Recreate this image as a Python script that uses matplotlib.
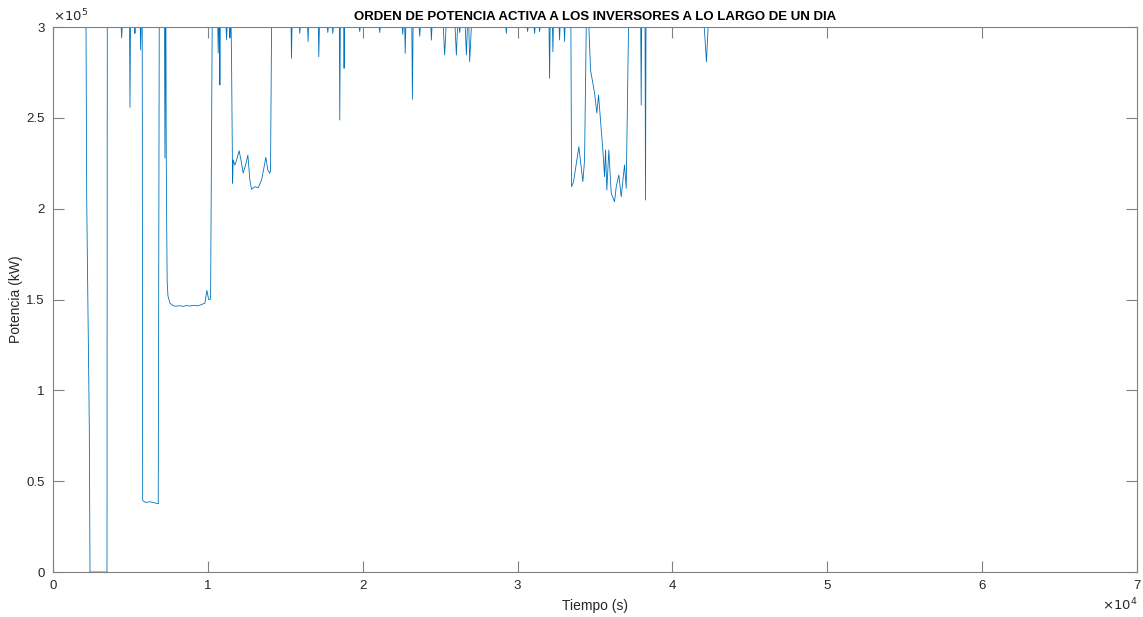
import matplotlib
matplotlib.use("Agg")
import matplotlib.pyplot as plt

plt.rcParams['font.family'] = ['Liberation Sans', 'DejaVu Sans']

# tiempo (s) y orden de potencia
tiempo = [0, 2130, 2174, 2342, 2387, 3484, 3503,
          4400, 4432, 4465, 4940, 4968, 5000, 5270, 5290, 5310, 5630, 5658, 5690,
          5760, 5787, 5826, 6000, 6258, 6500, 6794, 6858,
          7200, 7226, 7260, 7290, 7310, 7340, 7370, 7420, 7550, 7742, 7900, 8194, 8400,
          8600, 8839, 9100, 9300, 9484, 9806, 9935, 10050, 10174, 10277,
          10640, 10665, 10700, 10750, 10774, 10800, 11175, 11206, 11240, 11400, 11419, 11450,
          11500, 11529, 11594, 11632, 11742, 11852, 12019, 12174, 12277, 12432, 12581,
          12710, 12819, 13032, 13245, 13465, 13613, 13742, 13871, 14000, 14045, 14110,
          15370, 15400, 15430, 15905, 15935, 15960, 16440, 16471, 16500,
          17130, 17161, 17200, 17710, 17742, 17780, 18030, 18064, 18100,
          18490, 18516, 18550, 18770, 18794, 18820, 19770, 19806, 19840,
          21060, 21097, 21130, 22550, 22581, 22610, 22710, 22740, 22780,
          23170, 23206, 23250, 23640, 23677, 23720, 24400, 24432, 24470,
          25200, 25290, 25380, 25960, 26045, 26120, 26220, 26258, 26300,
          26620, 26690, 26760, 26850, 26903, 27013,
          29240, 29271, 29300, 30610, 30645, 30680, 31060, 31097, 31130, 31390, 31420, 31450,
          32030, 32065, 32100, 32250, 32277, 32310, 32680, 32710, 32740,
          33000, 33032, 33060, 33440, 33484, 33613, 33955, 34213, 34323, 34432,
          34600, 34710, 34968, 35116, 35226, 35503, 35613, 35677, 35761, 35890,
          36045, 36258, 36368, 36535, 36690, 36903, 37013, 37161,
          37950, 37981, 38010, 38230, 38258, 38290, 42050, 42194, 42300, 61161]

potencia = [300000, 300000, 205000, 80000, 0, 0, 300000,
            300000, 293950, 300000, 300000, 255800, 300000, 300000, 296500, 300000, 300000, 287340, 300000,
            300000, 39630, 39080, 38300, 38700, 38200, 37600, 300000,
            300000, 227890, 300000, 300000, 230000, 190000, 160000, 152000, 148000, 146700, 146300, 146600, 146200,
            146700, 146400, 146800, 146500, 146900, 148000, 155000, 150000, 150200, 300000,
            300000, 285690, 300000, 300000, 268070, 300000, 300000, 293000, 300000, 300000, 293950, 300000,
            300000, 280180, 214000, 226800, 224000, 226800, 231900, 225000, 219600, 224000, 229500,
            215800, 210650, 212100, 211500, 215800, 222200, 228300, 221300, 219500, 221000, 300000,
            300000, 282770, 300000, 300000, 296500, 300000, 300000, 292000, 300000,
            300000, 283600, 300000, 300000, 297000, 300000, 300000, 296500, 300000,
            300000, 248810, 300000, 300000, 277270, 300000, 300000, 297500, 300000,
            300000, 297000, 300000, 300000, 296000, 300000, 300000, 285500, 300000,
            300000, 260200, 300000, 300000, 295000, 300000, 300000, 292800, 300000,
            300000, 284600, 300000, 300000, 284600, 300000, 300000, 297000, 300000,
            300000, 284600, 300000, 300000, 280900, 300000,
            300000, 296500, 300000, 300000, 297500, 300000, 300000, 296500, 300000, 300000, 297500, 300000,
            300000, 271760, 300000, 300000, 286400, 300000, 300000, 292850, 300000,
            300000, 292000, 300000, 300000, 212090, 214840, 234110, 214840, 226790, 300000,
            300000, 276300, 263670, 252660, 262570, 232290, 217600, 232290, 210280, 232290,
            208460, 203840, 212090, 218530, 206590, 224040, 211210, 300000,
            300000, 257060, 300000, 300000, 204770, 300000, 300000, 280900, 300000, 300000]

x_ticks = [0, 10000, 20000, 30000, 40000, 50000, 60000, 70000]
x_labels = ['0', '1', '2', '3', '4', '5', '6', '7']
y_ticks = [0, 50000, 100000, 150000, 200000, 250000, 300000]
y_labels = ['0', '0.5', '1', '1.5', '2', '2.5', '3']

fig = plt.figure(figsize=(11.43, 6.17), dpi=100)
ax = fig.add_axes([0.0464, 0.0729, 0.9484, 0.8833])

ax.plot(tiempo, potencia, color='#0072BD', lw=0.6)

ax.set_xlim(0, 70000)
ax.set_ylim(0, 300000)
ax.set_xticks(x_ticks)
ax.set_xticklabels(x_labels)
ax.set_yticks(y_ticks)
ax.set_yticklabels(y_labels)

gris = '#262626'
for s in ax.spines.values():
    s.set_color('#808080')
    s.set_linewidth(0.8)
ax.tick_params(direction='in', length=8, width=0.8, color='#808080',
               labelcolor=gris, labelsize=9.5, top=True, right=True, pad=6)

ax.set_title('ORDEN DE POTENCIA ACTIVA A LOS INVERSORES A LO LARGO DE UN DIA',
             fontsize=9.5, fontweight='bold', color='black', pad=5)
ax.set_xlabel('Tiempo (s)', fontsize=10, color=gris, labelpad=5)
ax.set_ylabel('Potencia (kW)', fontsize=10, color=gris, labelpad=2)

ax.text(0.0, 1.005, r'$\times10^{5}$', transform=ax.transAxes, fontsize=9.5,
        color=gris, ha='left', va='bottom')
ax.text(1.0, -0.045, r'$\times10^{4}$', transform=ax.transAxes, fontsize=9.5,
        color=gris, ha='right', va='top')

fig.savefig('out.png', dpi=100)
